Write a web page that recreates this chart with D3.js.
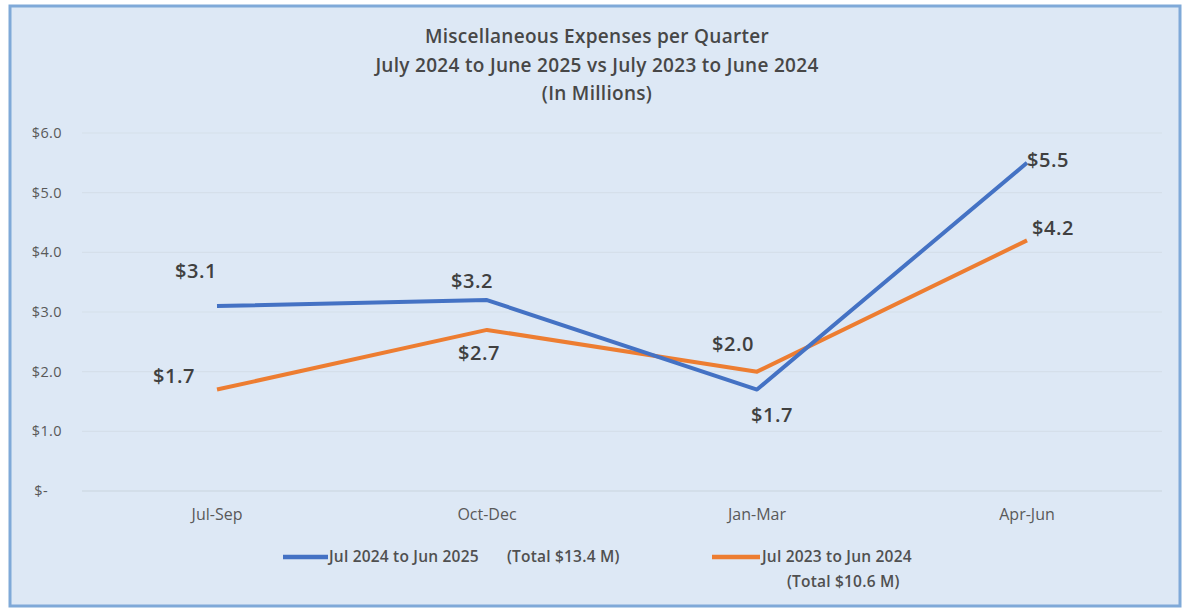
<!DOCTYPE html>
<html>
<head>
<meta charset="utf-8">
<script src="https://cdn.jsdelivr.net/npm/d3@7"></script>
<style>
  body { margin: 0; background: #fff; }
  svg { display: block; }
</style>
</head>
<body>
<div id="chart"></div>
<script>
const quarters = ['Jul-Sep', 'Oct-Dec', 'Jan-Mar', 'Apr-Jun']
const current = [3.1, 3.2, 1.7, 5.5]
const previous = [1.7, 2.7, 2.0, 4.2]
const yTicks = [0, 1, 2, 3, 4, 5, 6]
const titleLines = [
  'Miscellaneous Expenses per Quarter',
  'July 2024 to June 2025 vs July 2023 to June 2024',
  '(In Millions)'
]
const legendItems = [
  { name: 'Jul 2024 to Jun 2025', total: '(Total $13.4 M)', color: '#4472c4' },
  { name: 'Jul 2023 to Jun 2024', total: '(Total $10.6 M)', color: '#ed7d31' }
]

const width = 1187
const height = 611
const margin = { top: 133, right: 25, bottom: 120, left: 82 }
const font = '"Open Sans", sans-serif'

const svg = d3.select('#chart')
  .append('svg')
  .attr('width', width)
  .attr('height', height)

// frame
svg.append('rect')
  .attr('x', 10).attr('y', 6)
  .attr('width', 1170).attr('height', 600)
  .attr('fill', '#dde8f5')
  .attr('stroke', '#7fa9d8')
  .attr('stroke-width', 3)

const title = svg.append('g').attr('font-family', font).attr('font-weight', 600)
  .attr('fill', '#474747').attr('font-size', 19).attr('letter-spacing', 0.3)
  .attr('text-anchor', 'middle')
titleLines.forEach((t, i) => {
  title.append('text').attr('x', 597).attr('y', 43 + i * 28.5).text(t)
})

const x = d3.scaleBand()
  .domain(quarters)
  .range([margin.left, width - margin.right])

const y = d3.scaleLinear()
  .domain([0, 6])
  .range([height - margin.bottom, margin.top])

// grid
svg.append('g')
  .selectAll('line')
  .data(yTicks)
  .join('line')
  .attr('x1', margin.left).attr('x2', width - margin.right)
  .attr('y1', d => y(d)).attr('y2', d => y(d))
  .attr('stroke', d => d === 0 ? '#c9d3de' : '#d5dfea')
  .attr('stroke-width', 1.2)

// y axis
const yAxis = svg.append('g')
  .attr('transform', 'translate(65,0)')
  .call(d3.axisLeft(y).tickValues(yTicks).tickSize(0)
    .tickFormat(d => d === 0 ? '$-' : '$' + d3.format('.1f')(d)))
yAxis.select('.domain').remove()
yAxis.selectAll('text')
  .style('font-family', font).style('font-size', '14.5px').attr('fill', '#595959')
  .attr('letter-spacing', 0.4)
yAxis.selectAll('.tick').filter(d => d === 0).select('text').attr('dx', -14)

// x axis
const xAxis = svg.append('g')
  .attr('transform', `translate(0,${y(0)})`)
  .call(d3.axisBottom(x).tickSize(0).tickPadding(18))
xAxis.select('.domain').remove()
xAxis.selectAll('text')
  .style('font-family', font).style('font-size', '16px').attr('fill', '#595959')

const line = d3.line()
  .x((d, i) => x(quarters[i]) + x.bandwidth() / 2)
  .y(d => y(d))

const series = [
  { values: previous, color: '#ed7d31', offsets: [[-43, -14], [-8, 23], [-24, -28], [26, -12]] },
  { values: current, color: '#4472c4', offsets: [[-21, -35], [-15, -19], [15, 25], [21, -3]] }
]

series.forEach(s => {
  svg.append('path')
    .attr('d', line(s.values))
    .attr('fill', 'none')
    .attr('stroke', s.color)
    .attr('stroke-width', 4)
    .attr('stroke-linejoin', 'round')
})

series.forEach(s => {
  svg.append('g')
    .selectAll('text')
    .data(s.values)
    .join('text')
    .attr('x', (d, i) => x(quarters[i]) + x.bandwidth() / 2 + s.offsets[i][0])
    .attr('y', (d, i) => y(d) + s.offsets[i][1])
    .attr('text-anchor', 'middle')
    .attr('dy', '0.35em')
    .attr('font-family', font).attr('font-weight', 600)
    .attr('font-size', 20).attr('letter-spacing', 0.5).attr('fill', '#404040')
    .text(d => '$' + d3.format('.1f')(d))
})

// legend
const legend = svg.append('g').attr('font-family', font).attr('font-weight', 600)
  .attr('font-size', 15.5).attr('letter-spacing', 0.2).attr('fill', '#505050')
const legendX = [283, 712]
legendItems.forEach((item, i) => {
  const g = legend.append('g').attr('transform', `translate(${legendX[i]},557)`)
  g.append('line').attr('x1', 0).attr('x2', i === 0 ? 45 : 48)
    .attr('stroke', item.color).attr('stroke-width', 4.5)
  g.append('text')
    .attr('x', i === 0 ? 46 : 50)
    .attr('y', 5)
    .text(item.name)
  g.append('text')
    .attr('x', i === 0 ? 224 : 75)
    .attr('y', i === 0 ? 5 : 30)
    .text(item.total)
})
</script>
</body>
</html>
